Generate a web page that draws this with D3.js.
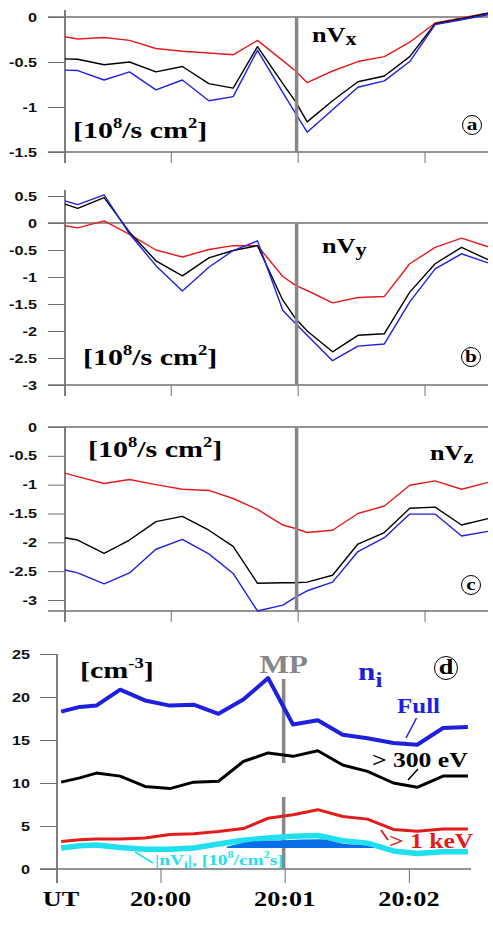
<!DOCTYPE html>
<html>
<head>
<meta charset="utf-8">
<script src="https://cdn.jsdelivr.net/npm/d3@7"></script>
<style>
body{margin:0;background:#fff;}
svg{display:block;}
</style>
</head>
<body>
<svg id="chart" width="493" height="941"></svg>
<script>
// times are seconds after 20:00:00 UT
const tFlux = [-50,-44,-31.5,-19.5,-7,5.5,18,29.5,41,53,59,64.5,76.5,88.5,101,113,125,137.5,150];

// panel a : nVx  [10^8 / s cm^2]
const nvxFull = [-0.59,-0.595,-0.70,-0.61,-0.81,-0.70,-0.93,-0.885,-0.37,-0.84,-1.07,-1.28,-1.03,-0.78,-0.71,-0.495,-0.085,-0.03,0.025];
const nvx300  = [-0.465,-0.47,-0.53,-0.50,-0.61,-0.55,-0.74,-0.79,-0.33,-0.74,-0.94,-1.165,-0.93,-0.72,-0.655,-0.44,-0.075,-0.02,0.04];
const nvx1k   = [-0.22,-0.245,-0.227,-0.26,-0.35,-0.38,-0.40,-0.42,-0.26,-0.485,-0.6,-0.73,-0.6,-0.495,-0.44,-0.28,-0.067,-0.01,0.045];

// panel b : nVy
const nvyFull = [0.41,0.34,0.52,-0.2,-0.79,-1.26,-0.82,-0.51,-0.33,-1.62,-1.86,-2.08,-2.55,-2.28,-2.24,-1.46,-0.85,-0.57,-0.74];
const nvy300  = [0.35,0.27,0.47,-0.17,-0.7,-0.98,-0.645,-0.51,-0.42,-1.43,-1.77,-2.0,-2.385,-2.08,-2.05,-1.28,-0.755,-0.45,-0.68];
const nvy1k   = [-0.05,-0.09,0.04,-0.21,-0.5,-0.63,-0.49,-0.42,-0.42,-0.99,-1.155,-1.25,-1.48,-1.38,-1.36,-0.755,-0.45,-0.28,-0.44];

// panel c : nVz
const nvzFull = [-2.48,-2.53,-2.72,-2.53,-2.12,-1.95,-2.20,-2.54,-3.19,-3.09,-2.95,-2.84,-2.69,-2.16,-1.92,-1.51,-1.51,-1.89,-1.81];
const nvz300  = [-1.92,-1.96,-2.19,-1.96,-1.64,-1.55,-1.79,-2.07,-2.71,-2.70,-2.70,-2.69,-2.57,-2.03,-1.83,-1.41,-1.39,-1.70,-1.59];
const nvz1k   = [-0.80,-0.86,-0.98,-0.91,-1.0,-1.08,-1.10,-1.24,-1.43,-1.70,-1.76,-1.83,-1.79,-1.5,-1.37,-1.01,-0.935,-1.08,-0.96];

// panel d : n_i [cm^-3] and |nV_i|
const tDens  = [-48,-39,-31,-19.5,-7.5,4.5,16,28,40,52,64,76,88,100,112.5,124,136.5,148.5];
const niFull = [18.3,18.85,19.0,20.85,19.6,19.0,19.1,18.05,19.7,22.2,16.8,17.3,15.6,15.2,14.65,14.45,16.4,16.5];
const ni300  = [10.1,10.6,11.15,10.8,9.6,9.35,10.1,10.2,12.5,13.5,13.1,13.75,12.1,11.35,10.0,9.5,10.8,10.8];
const ni1k   = [3.2,3.4,3.5,3.5,3.6,4.0,4.1,4.35,4.7,5.9,6.3,6.9,6.1,5.8,4.6,4.4,4.65,4.65];
const nvAbs  = [2.45,2.7,2.8,2.5,2.3,2.3,2.45,2.9,3.35,3.6,3.8,3.9,3.3,3.0,2.1,1.8,2.0,2.0];
const tFill    = [32,44.8,59.3,77,88.3,99.6,103];
const fillTop  = [2.6,3.2,3.35,3.45,2.95,2.7,2.5];
const fillBase = [2.45,2.45,2.45,2.45,2.45,2.45,2.45];

const tMP = 59.5;
const timeTicks  = [-50,0,60,120];
const timeLabels = ["UT","20:00","20:01","20:02"];

const RED = "#e41b1b", BLUE = "#1f1fe0", BLACK = "#000", CYAN = "#1fe0ee", DARKBLUE = "#0a6fe6", GRAY = "#878787";
const AX = "#707070";
const SERIF = "'Liberation Serif','Times New Roman',serif";
const SANS = "'Liberation Sans',Arial,sans-serif";

const svg = d3.select("#chart");
const xTop = d3.scaleLinear().domain([-50,150]).range([65,488]);
const xBot = d3.scaleLinear().domain([-50,150]).range([57,471]);

// text with a horizontal stretch like the original figure
function label(x, y, parts, size, color, anchor, family) {
  const t = svg.append("text")
    .attr("transform", `translate(${x},${y}) scale(1.25,1)`)
    .attr("font-family", family || SERIF)
    .attr("font-weight", "bold")
    .attr("font-size", size)
    .attr("fill", color)
    .attr("text-anchor", anchor || "start");
  let shift = 0;
  parts.forEach(p => {
    const s = typeof p === "string" ? {t: p} : p;
    const target = s.sup ? -size * 0.42 : s.sub ? size * (s.off || 0.18) : 0;
    t.append("tspan")
      .attr("dy", target - shift)
      .attr("font-size", s.sup ? size * 0.62 : s.sub ? size * (s.k || 0.85) : size)
      .text(s.t);
    shift = target;
  });
  return t;
}

function circled(cx, cy, r, ch, size) {
  svg.append("circle").attr("cx", cx).attr("cy", cy).attr("r", r)
    .attr("fill", "none").attr("stroke", "#000").attr("stroke-width", 1);
  label(cx, cy + size * 0.3, [ch], size, "#000", "middle");
}

function yAxisTicks(x, y, lo, hi, step, majors, minorLen, majorLen, labelX, fmt) {
  const n0 = Math.round(lo / step), n1 = Math.round(hi / step);
  const minor = d3.range(n0, n1 + 1).map(i => +(i * step).toFixed(3));
  const g = svg.append("g").attr("transform", `translate(${x},0)`);
  g.call(d3.axisLeft(y).tickValues(minor).tickSize(minorLen).tickFormat(""));
  g.call(d3.axisLeft(y).tickValues(majors).tickSize(majorLen).tickFormat(""));
  g.selectAll(".domain").remove();
  g.selectAll("line").attr("stroke", AX);
  majors.forEach(v => {
    svg.append("text")
      .attr("transform", `translate(${labelX},${y(v) + 4.5}) scale(1.3,1)`)
      .attr("text-anchor", "end").attr("font-family", SANS).attr("font-weight", "bold")
      .attr("font-size", 12.5).attr("fill", "#111").text(fmt(v));
  });
}

function xAxisTicks(x, yPos, minorLen, majorLen) {
  const g = svg.append("g").attr("transform", `translate(0,${yPos})`);
  g.call(d3.axisBottom(x).tickValues(d3.range(-45, 151, 5)).tickSize(minorLen).tickFormat(""));
  g.call(d3.axisBottom(x).tickValues(timeTicks.slice(1)).tickSize(majorLen).tickFormat(""));
  g.selectAll(".domain").remove();
  g.selectAll("line").attr("stroke", AX);
}

function fluxPanel(p) {
  const y = d3.scaleLinear().domain(p.dom).range(p.rng);
  const yLow = y(p.low);
  // frame lines
  svg.append("line").attr("x1", 48).attr("x2", 488).attr("y1", y(0)).attr("y2", y(0))
    .attr("stroke", AX).attr("stroke-width", 1.6);
  svg.append("line").attr("x1", 48).attr("x2", 488).attr("y1", yLow).attr("y2", yLow)
    .attr("stroke", AX).attr("stroke-width", 1.6);
  svg.append("line").attr("x1", 65).attr("x2", 65).attr("y1", p.axisTop).attr("y2", yLow + 11)
    .attr("stroke", AX).attr("stroke-width", 1.8);
  yAxisTicks(65, y, p.minLo, p.minHi, 0.1, p.majors, 7, 17, 37, v => String(v));
  xAxisTicks(xTop, yLow, 5, 11);

  const line = d3.line().x((d, i) => xTop(tFlux[i])).y(d => y(d));
  p.series.forEach(s => {
    svg.append("path").datum(s.v).attr("d", line)
      .attr("fill", "none").attr("stroke", s.c).attr("stroke-width", 1.4)
      .attr("stroke-linejoin", "round");
  });
  svg.append("line").attr("x1", xTop(tMP)).attr("x2", xTop(tMP))
    .attr("y1", y(0)).attr("y2", yLow).attr("stroke", GRAY).attr("stroke-width", 3.5);
  return y;
}

// ---- panel a
fluxPanel({dom: [-1.5, 0], rng: [152, 17], low: -1.5, axisTop: 10, minLo: -1.5, minHi: 0,
  majors: [0, -0.5, -1, -1.5],
  series: [{v: nvx1k, c: RED}, {v: nvx300, c: BLACK}, {v: nvxFull, c: BLUE}]});
label(312, 42, ["nV", {t: "x", sub: true, off: 0.16}], 21, "#000");
label(73, 138, ["[10", {t: "8", sup: true}, "/s cm", {t: "2", sup: true}, "]"], 24, "#000");
circled(472, 125, 9.5, "a", 17);

// ---- panel b
fluxPanel({dom: [-3, 0.5], rng: [385, 196], low: -3, axisTop: 190, minLo: -3, minHi: 0.6,
  majors: [0.5, 0, -0.5, -1, -1.5, -2, -2.5, -3],
  series: [{v: nvy1k, c: RED}, {v: nvy300, c: BLACK}, {v: nvyFull, c: BLUE}]});
label(322, 253, ["nV", {t: "y", sub: true, off: 0.14}], 21, "#000");
label(83, 365, ["[10", {t: "8", sup: true}, "/s cm", {t: "2", sup: true}, "]"], 24, "#000");
circled(471, 357, 9.5, "b", 17);

// ---- panel c
fluxPanel({dom: [-3, 0], rng: [600, 427], low: -3.19, axisTop: 427, minLo: -3.1, minHi: 0,
  majors: [0, -0.5, -1, -1.5, -2, -2.5, -3],
  series: [{v: nvz1k, c: RED}, {v: nvz300, c: BLACK}, {v: nvzFull, c: BLUE}]});
label(430, 460, ["nV", {t: "z", sub: true, off: 0.14}], 21, "#000");
label(88, 457, ["[10", {t: "8", sup: true}, "/s cm", {t: "2", sup: true}, "]"], 24, "#000");
circled(471, 585, 9.5, "c", 17);

// ---- panel d
const yD = d3.scaleLinear().domain([0, 25]).range([869, 654]);
svg.append("line").attr("x1", 40).attr("x2", 471).attr("y1", yD(0)).attr("y2", yD(0))
  .attr("stroke", AX).attr("stroke-width", 1.6);
svg.append("line").attr("x1", 57).attr("x2", 57).attr("y1", yD(25)).attr("y2", yD(0) + 14)
  .attr("stroke", AX).attr("stroke-width", 1.8);
yAxisTicks(57, yD, 0, 25, 1, [0, 5, 10, 15, 20, 25], 7, 17, 30, v => String(v));
xAxisTicks(xBot, yD(0), 7, 14);
timeTicks.forEach((t, i) => {
  label(i === 0 ? 61 : xBot(t), 906, [timeLabels[i]], 21, "#000", "middle");
});

// MP marker
const xMP = xBot(tMP);
svg.append("line").attr("x1", xMP).attr("x2", xMP).attr("y1", 679).attr("y2", 763)
  .attr("stroke", GRAY).attr("stroke-width", 3.5);
svg.append("line").attr("x1", xMP).attr("x2", xMP).attr("y1", 797).attr("y2", yD(0))
  .attr("stroke", GRAY).attr("stroke-width", 3.5);

const lineD = arr => d3.line().x((d, i) => xBot(tDens[i])).y(d => yD(d))(arr);
svg.append("path").attr("d", lineD(nvAbs)).attr("fill", "none").attr("stroke", CYAN)
  .attr("stroke-width", 5.5).attr("stroke-linejoin", "round");
const area = d3.area().curve(d3.curveMonotoneX)
  .x((d, i) => xBot(tFill[i])).y0((d, i) => yD(fillBase[i])).y1(d => yD(d));
svg.append("path").datum(fillTop).attr("d", area).attr("fill", DARKBLUE);
svg.append("path").attr("d", lineD(ni1k)).attr("fill", "none").attr("stroke", RED)
  .attr("stroke-width", 3).attr("stroke-linejoin", "round");
svg.append("path").attr("d", lineD(ni300)).attr("fill", "none").attr("stroke", BLACK)
  .attr("stroke-width", 3).attr("stroke-linejoin", "round");
svg.append("path").attr("d", lineD(niFull)).attr("fill", "none").attr("stroke", BLUE)
  .attr("stroke-width", 4).attr("stroke-linejoin", "round");

// panel d labels
label(80, 678, ["[cm", {t: "-3", sup: true}, "]"], 24, "#000");
label(xMP, 673, ["MP"], 25, GRAY, "middle");
label(358, 680, ["n", {t: "i", sub: true, off: 0.28, k: 0.8}], 25, BLUE);
circled(446, 668, 11.5, "d", 21);
label(397, 713, ["Full"], 20, BLUE);
svg.append("line").attr("x1", 416.5).attr("y1", 718).attr("x2", 406).attr("y2", 738)
  .attr("stroke", BLUE).attr("stroke-width", 1.5);
label(372, 767, ["> 300 eV"], 20.5, "#000");
svg.append("line").attr("x1", 418).attr("y1", 769).attr("x2", 408).attr("y2", 780)
  .attr("stroke", "#000").attr("stroke-width", 1.5);
label(389, 848, ["> 1 keV"], 20.5, RED);
svg.append("line").attr("x1", 381).attr("y1", 830).attr("x2", 388).attr("y2", 840)
  .attr("stroke", RED).attr("stroke-width", 1.8);
label(155, 865, ["|nV", {t: "i", sub: true, off: 0.2, k: 0.7}, "|, [10", {t: "8", sup: true}, "/cm",
  {t: "2", sup: true}, "s]"], 15.5, CYAN);
svg.append("line").attr("x1", 135).attr("y1", 852).attr("x2", 153).attr("y2", 863)
  .attr("stroke", CYAN).attr("stroke-width", 1.5);
</script>
</body>
</html>
